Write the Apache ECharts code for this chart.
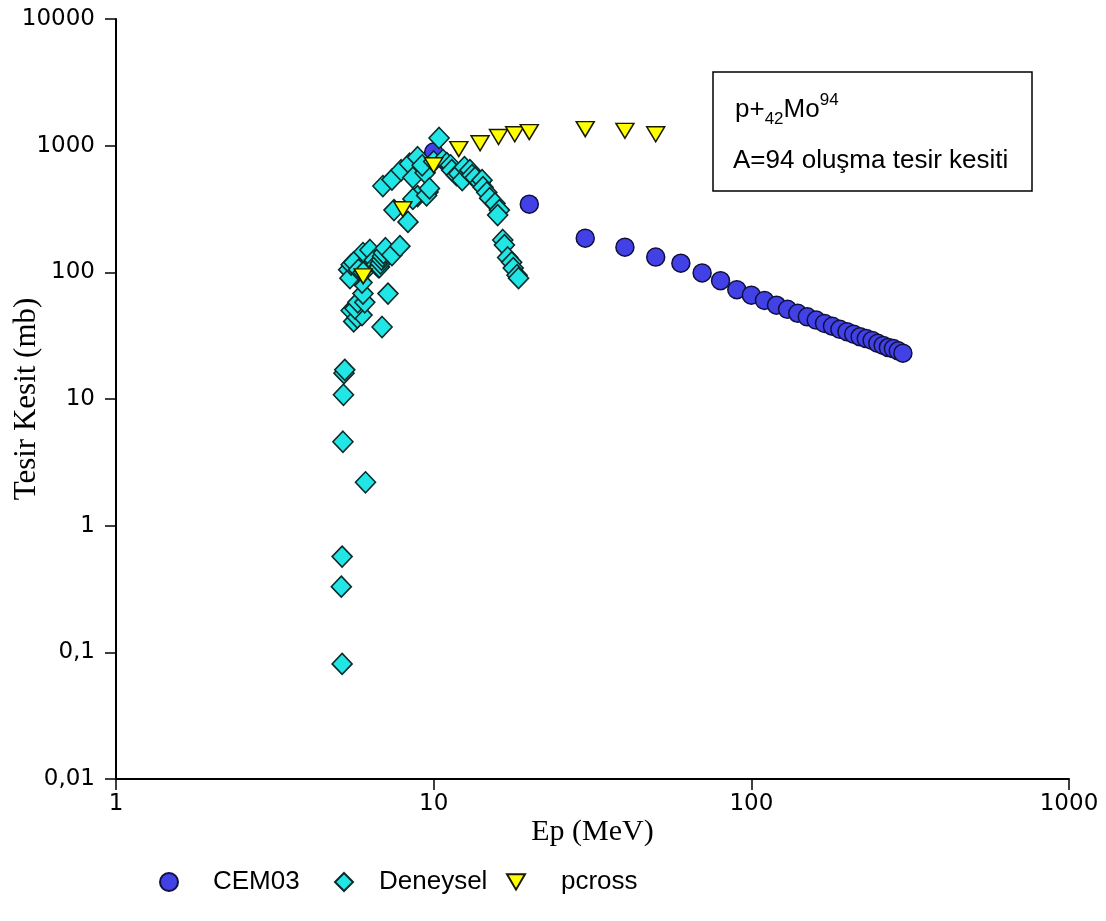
<!DOCTYPE html>
<html><head><meta charset="utf-8">
<script src="https://cdn.jsdelivr.net/npm/echarts@6/dist/echarts.min.js"></script>
<style>html,body{margin:0;padding:0;background:#fff}#c{width:1106px;height:921px}</style>
</head><body><div id="c"></div>
<script>
// ---- data ----
const seriesNames = ['CEM03', 'Deneysel', 'pcross'];
const xTickValues = [1, 10, 100, 1000];
const yTickValues = [0.01, 0.1, 1, 10, 100, 1000, 10000];

const cemX = [10, 20, 30, 40, 50, 60, 70, 80, 90, 100, 110, 120, 130, 140, 150, 160, 170, 180, 190, 200,
  210, 220, 230, 240, 250, 260, 270, 280, 290, 300];
const cemY = [890, 345, 186, 158, 132, 118, 99, 86, 73, 66, 60, 55, 51, 47.5, 44.5, 42, 39.5, 37.5, 35.5, 34,
  32.5, 31, 30, 29, 27.5, 26.5, 25.5, 25, 24, 23];

const denX = [5.15, 5.12, 5.15, 5.18, 5.2, 5.22, 5.25, 6.1,
  5.5, 5.6, 5.75, 5.95, 5.65, 5.77, 6.07, 5.99, 5.95, 5.65, 5.57, 5.74, 5.99, 6.3,
  5.4, 5.45, 5.5, 5.6, 5.8, 6.0, 6.5, 6.6, 6.7,
  6.75, 6.8, 6.85, 6.9, 6.95, 7.05, 7.39, 7.83, 7.18, 6.88,
  6.92, 7.39, 7.9, 8.4, 8.9, 10.4, 8.6, 9.4, 9.6, 8.9, 8.6, 7.5, 8.3, 9.5, 9.7, 9.2, 10.0,
  10.7, 11.0, 11.3, 11.4, 11.8, 12.0, 12.3, 12.5, 13.0, 13.2, 13.5, 14.0, 14.2, 14.3, 14.7, 15.0, 15.6,
  16.1, 15.9, 16.5, 16.7, 17.1, 17.6, 17.8, 18.3, 18.5];
const denY = [0.081, 0.33, 0.57, 4.6, 10.8, 16, 17, 2.2,
  50, 41, 44, 46, 52, 58, 58, 68, 83, 95, 110, 120, 142, 150,
  105, 90, 115, 120, 105, 100, 125, 115, 110,
  110, 118, 126, 134, 142, 155, 137, 161, 68, 37,
  480, 540, 640, 720, 810, 1150, 560, 610, 430, 400, 380, 310, 250, 405, 460, 700, 750,
  770, 728, 700, 641, 585, 600, 534, 677, 641, 585, 560, 510, 534, 470, 427, 385, 350,
  310, 283, 180, 164, 131, 120, 108, 95, 90];

const pcrossX = [6, 8, 10, 12, 14, 16, 18, 20, 30, 40, 50];
const pcrossY = [93, 315, 700, 940, 1045, 1170, 1230, 1280, 1350, 1310, 1230];

// ---- chart ----
const zip = (xs, ys) => xs.map((x, i) => [x, ys[i]]);
const fmt = v => {
  const t = yTickValues.concat(xTickValues).find(t => Math.abs(Math.log10(t) - Math.log10(v)) < 1e-6);
  return t === undefined ? '' : String(t).replace('.', ',');
};
const labelFont = { fontFamily: 'DejaVu Sans, sans-serif', fontSize: 23, color: '#000' };
const legendText = (pad) => ({ fontFamily: 'Liberation Sans, Arial, sans-serif', fontSize: 26, color: '#000', padding: [0, 0, 0, pad] });

const chart = echarts.init(document.getElementById('c'));
chart.setOption({
  animation: false,
  backgroundColor: '#fff',
  grid: { left: 116, right: 37, top: 19, bottom: 142, containLabel: false, outerBoundsMode: 'none' },
  xAxis: {
    type: 'log', logBase: 10, min: 1, max: 1000,
    name: 'Ep (MeV)', nameLocation: 'middle', nameGap: 38, nameMoveOverlap: false,
    nameTextStyle: { fontFamily: 'Liberation Serif, Times New Roman, serif', fontSize: 30, color: '#000' },
    axisLine: { lineStyle: { color: '#000', width: 2 } },
    axisTick: { inside: false, length: 11, lineStyle: { color: '#000', width: 1.5 } },
    axisLabel: Object.assign({ margin: 14, formatter: fmt }, labelFont),
    splitLine: { show: false }, minorTick: { show: false }
  },
  yAxis: {
    type: 'log', logBase: 10, min: 0.01, max: 10000,
    name: 'Tesir Kesit (mb)', nameLocation: 'middle', nameGap: 74, nameMoveOverlap: false,
    nameTextStyle: { fontFamily: 'Liberation Serif, Times New Roman, serif', fontSize: 31, color: '#000' },
    axisLine: { lineStyle: { color: '#000', width: 2 } },
    axisTick: { inside: false, length: 11, lineStyle: { color: '#000', width: 1.5 } },
    axisLabel: Object.assign({ margin: 21, formatter: fmt }, labelFont),
    splitLine: { show: false }, minorTick: { show: false }
  },
  legend: [
    { data: [seriesNames[0]], left: 154, top: 864, itemWidth: 18, itemHeight: 18, textStyle: legendText(30) },
    { data: [seriesNames[1]], left: 329, top: 864, itemWidth: 18, itemHeight: 18, textStyle: legendText(21) },
    { data: [{ name: seriesNames[2], icon: 'path://M0,0L20,0L10,17Z' }], left: 501, top: 864, itemWidth: 18, itemHeight: 16, textStyle: legendText(31) }
  ],
  series: [
    { name: seriesNames[0], type: 'scatter', data: zip(cemX, cemY), symbol: 'circle', symbolSize: 18,
      itemStyle: { color: '#4141e6', borderColor: '#101040', borderWidth: 1.5, opacity: 1 } },
    { name: seriesNames[1], type: 'scatter', data: zip(denX, denY), symbol: 'diamond', symbolSize: [20, 21],
      itemStyle: { color: '#22e6e6', borderColor: '#0d2a2a', borderWidth: 1.6, opacity: 1 } },
    { name: seriesNames[2], type: 'scatter', data: zip(pcrossX, pcrossY), symbol: 'triangle', symbolRotate: 180, symbolSize: [18, 15],
      itemStyle: { color: '#ffff00', borderColor: '#1a1a00', borderWidth: 1.5, opacity: 1 } }
  ],
  graphic: [
    { type: 'rect', shape: { x: 713, y: 72, width: 319, height: 119 }, style: { fill: '#fff', stroke: '#000', lineWidth: 1.5 }, z: 10 },
    { type: 'text', x: 735, y: 92, z: 11, style: {
        text: '{a|p+}{sub|42}{a|Mo}{sup|94}',
        rich: {
          a: { fontFamily: 'Liberation Sans, Arial, sans-serif', fontSize: 26, color: '#000', lineHeight: 36, verticalAlign: 'middle' },
          sub: { fontFamily: 'Liberation Sans, Arial, sans-serif', fontSize: 17, color: '#000', lineHeight: 17, verticalAlign: 'bottom' },
          sup: { fontFamily: 'Liberation Sans, Arial, sans-serif', fontSize: 17, color: '#000', lineHeight: 17, verticalAlign: 'top' }
        } } },
    { type: 'text', x: 733, y: 148, z: 11, style: {
        text: 'A=94 oluşma tesir kesiti', fontFamily: 'Liberation Sans, Arial, sans-serif', fontSize: 26, fill: '#000' } }
  ]
});
</script></body></html>
